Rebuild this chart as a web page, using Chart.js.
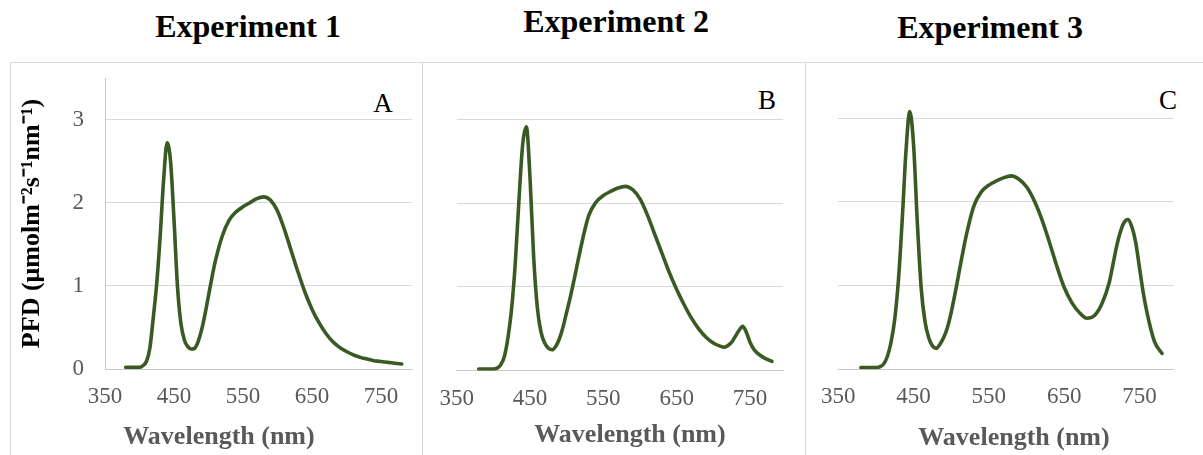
<!DOCTYPE html>
<html>
<head>
<meta charset="utf-8">
<script src="https://cdn.jsdelivr.net/npm/chart.js@4.4.1/dist/chart.umd.min.js"></script>
<style>
  html, body { margin: 0; padding: 0; background: #ffffff; }
  body { width: 1203px; height: 455px; position: relative; overflow: hidden; font-family: "Liberation Serif", "Times New Roman", serif; }
  .panel { position: absolute; top: 62px; height: 420px; border: 1px solid #d9d9d9; box-sizing: border-box; }
  .ptitle { position: absolute; font-weight: bold; font-size: 32px; line-height: 32px; white-space: nowrap; transform: translateX(-50%); color: #000; }
  .letter { position: absolute; font-size: 27px; line-height: 27px; transform: translateX(-50%); color: #000; }
  canvas { position: absolute; top: 62px; }
</style>
</head>
<body>
<div class="panel" style="left:10px;width:413px;"></div>
<div class="panel" style="left:422px;width:384px;"></div>
<div class="panel" style="left:805px;width:420px;"></div>

<div class="ptitle" style="left:248px;top:10px;">Experiment 1</div>
<div class="ptitle" style="left:616px;top:5px;">Experiment 2</div>
<div class="ptitle" style="left:990px;top:11px;">Experiment 3</div>

<div class="letter" style="left:383px;top:90px;">A</div>
<div class="letter" style="left:767px;top:87px;">B</div>
<div class="letter" style="left:1168px;top:87px;">C</div>

<canvas id="c1" width="412" height="393" style="left:10px;"></canvas>
<canvas id="c2" width="383" height="393" style="left:422px;"></canvas>
<canvas id="c3" width="398" height="393" style="left:805px;"></canvas>

<script>
// ---- data ----
const wavelengths = [380,390,400,405,410,415,420,425,430,435,440,445,450,455,460,465,470,475,480,485,490,495,500,505,510,520,530,540,550,560,570,580,590,600,610,620,630,640,650,660,670,680,690,700,710,715,720,725,730,735,740,745,750,755,760,770,780];

const exp1PFD = [0.02,0.02,0.02,0.04,0.09,0.25,0.62,1.03,1.6,2.28,2.72,2.5,1.8,1.0,0.55,0.35,0.27,0.24,0.25,0.33,0.47,0.66,0.88,1.1,1.3,1.6,1.79,1.89,1.95,2.0,2.05,2.07,2.03,1.9,1.68,1.42,1.16,0.92,0.72,0.56,0.43,0.33,0.26,0.21,0.17,0.155,0.14,0.13,0.12,0.11,0.1,0.095,0.09,0.085,0.08,0.07,0.06];

const exp2PFD = [0.02,0.02,0.02,0.03,0.07,0.17,0.4,0.75,1.3,2.05,2.7,2.91,2.3,1.35,0.75,0.46,0.33,0.27,0.25,0.29,0.38,0.52,0.7,0.88,1.08,1.5,1.85,2.01,2.09,2.14,2.18,2.2,2.16,2.05,1.86,1.63,1.4,1.17,0.97,0.79,0.63,0.5,0.4,0.33,0.29,0.28,0.3,0.34,0.41,0.48,0.53,0.46,0.34,0.26,0.21,0.15,0.11];

const exp3PFD = [0.02,0.02,0.02,0.03,0.06,0.15,0.32,0.6,1.08,1.8,2.62,3.08,2.68,1.75,0.98,0.58,0.38,0.28,0.25,0.3,0.38,0.5,0.68,0.9,1.14,1.6,1.95,2.12,2.2,2.25,2.29,2.31,2.27,2.18,2.02,1.8,1.53,1.24,0.98,0.8,0.68,0.61,0.64,0.78,1.04,1.26,1.48,1.65,1.76,1.79,1.7,1.52,1.22,0.92,0.68,0.33,0.19];

const xTickValues = [350,450,550,650,750];
const yTickValues = [0,1,2,3];
const xMin = 350, xMax = 795;
const yMin = 0, yMax = 3.5;

const xTitle = 'Wavelength (nm)';
const yTitle = 'PFD (μmolm⁻²s⁻¹nm⁻¹)';

// ---- layout of each panel (pixel geometry, relative to its canvas) ----
const panels = [
  { id: 'c1', series: exp1PFD, W: 412, H: 393, chartLeft: 95,   chartRight: 402,   chartTop: 16,   chartBottom: 307,   titleX: 209, titleY: 375, showY: true },
  { id: 'c2', series: exp2PFD, W: 383, H: 393, chartLeft: 34.7, chartRight: 361,   chartTop: 15.4, chartBottom: 308.7, titleX: 208, titleY: 373, showY: false },
  { id: 'c3', series: exp3PFD, W: 398, H: 393, chartLeft: 33.3, chartRight: 368.3, chartTop: 14.3, chartBottom: 307.3, titleX: 209, titleY: 376, showY: false }
];

const FONT = '"Liberation Serif", "Times New Roman", serif';
const LINE = '#3a5a24';
const GRID = '#d9d9d9';
const AXIS = '#c8c8c8';
const TICK = '#595959';

panels.forEach(p => {
  const L = 2 * p.titleX - p.W;           // layout padding left
  const yW = p.chartLeft - L;             // y axis box width
  const rW = p.W - p.chartRight;          // right spacer axis width
  const tSize = 26, tLH = tSize * 1.2;
  const tPadBottom = p.H - p.titleY - tLH / 2;
  const titleH = tLH + tPadBottom;
  const xH = p.H - titleH - p.chartBottom;

  new Chart(document.getElementById(p.id), {
    type: 'line',
    data: {
      datasets: [{
        data: wavelengths.map((w, i) => ({ x: w, y: p.series[i] })),
        borderColor: LINE,
        borderWidth: 3.6,
        pointRadius: 0,
        fill: false,
        cubicInterpolationMode: 'monotone',
        borderCapStyle: 'round',
        borderJoinStyle: 'round'
      }]
    },
    options: {
      responsive: false,
      animation: false,
      events: [],
      layout: { padding: { left: L, right: 0, top: p.chartTop, bottom: 0 } },
      plugins: {
        legend: { display: false },
        tooltip: { enabled: false },
        title: {
          display: true,
          position: 'bottom',
          text: xTitle,
          color: TICK,
          font: { family: FONT, size: tSize, weight: 'bold', lineHeight: 1.2 },
          padding: { top: 0, bottom: tPadBottom }
        }
      },
      scales: {
        x: {
          type: 'linear',
          position: 'bottom',
          min: xMin, max: xMax,
          afterBuildTicks: s => { s.ticks = xTickValues.map(v => ({ value: v })); },
          afterFit: s => { s.height = xH; s.paddingLeft = 0; s.paddingRight = 0; },
          grid: { display: false, drawTicks: false },
          border: { display: true, color: AXIS, width: 1 },
          ticks: { color: TICK, font: { family: FONT, size: 23 }, padding: 14, maxRotation: 0, autoSkip: false }
        },
        y: {
          type: 'linear',
          position: 'left',
          min: yMin, max: yMax,
          afterBuildTicks: s => { s.ticks = yTickValues.map(v => ({ value: v })); },
          afterFit: s => { s.width = yW; s.paddingTop = 0; s.paddingBottom = 0; },
          grid: { display: true, color: GRID, lineWidth: 1, drawTicks: false },
          border: { display: p.showY, color: AXIS, width: 1 },
          ticks: { display: p.showY, color: TICK, font: { family: FONT, size: 23 }, padding: 21 },
          title: {
            display: p.showY,
            text: yTitle,
            color: '#000000',
            font: { family: FONT, size: 26, weight: 'bold', lineHeight: 1.0 },
            padding: { top: 3, bottom: 0 }
          }
        },
        r: {
          type: 'linear',
          position: 'right',
          display: true,
          afterFit: s => { s.width = rW; },
          grid: { display: false, drawTicks: false },
          border: { display: false },
          ticks: { display: false }
        }
      }
    }
  });
});
</script>
</body>
</html>
